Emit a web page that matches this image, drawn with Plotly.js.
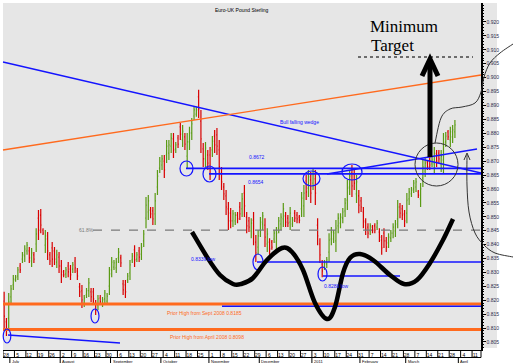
<!DOCTYPE html>
<html><head><meta charset="utf-8">
<script src="https://cdn.plot.ly/plotly-3.0.1.min.js"></script>
<style>html,body{margin:0;padding:0;background:#fff}#chart{width:513px;height:363px}</style>
</head><body><div id="chart"></div>
<script>
// ---- data: EUR/GBP daily bars from 2010-06-28 ----
const startDate = '2010-06-28';
const high = [0.8230,0.8136,0.8226,0.8255,0.8291,0.8291,0.8319,0.8334,0.8373,0.8398,
 0.8409,0.8391,0.8388,0.8373,0.8459,0.8524,0.8528,0.8459,0.8452,0.8445,
 0.8373,0.8409,0.8391,0.8381,0.8373,0.8345,0.8309,0.8319,0.8337,0.8327,
 0.8337,0.8355,0.8316,0.8262,0.8255,0.8219,0.8244,0.8280,0.8244,0.8244,
 0.8201,0.8219,0.8219,0.8212,0.8237,0.8226,0.8319,0.8355,0.8345,0.8352,
 0.8388,0.8363,0.8273,0.8273,0.8298,0.8345,0.8370,0.8398,0.8373,0.8391,
 0.8406,0.8452,0.8571,0.8578,0.8535,0.8535,0.8585,0.8668,0.8715,0.8722,
 0.8722,0.8776,0.8776,0.8801,0.8801,0.8769,0.8794,0.8837,0.8830,0.8801,
 0.8801,0.8823,0.8855,0.8895,0.8895,0.8956,0.8884,0.8765,0.8769,0.8740,
 0.8751,0.8790,0.8812,0.8819,0.8776,0.8679,0.8621,0.8596,0.8553,0.8531,
 0.8524,0.8517,0.8517,0.8553,0.8585,0.8614,0.8517,0.8499,0.8495,0.8517,
 0.8434,0.8452,0.8499,0.8517,0.8495,0.8459,0.8423,0.8416,0.8452,0.8463,
 0.8499,0.8513,0.8549,0.8517,0.8506,0.8535,0.8499,0.8524,0.8517,0.8506,
 0.8589,0.8614,0.8650,0.8668,0.8661,0.8675,0.8668,0.8495,0.8423,0.8345,
 0.8345,0.8355,0.8441,0.8463,0.8452,0.8488,0.8513,0.8513,0.8531,0.8567,
 0.8632,0.8668,0.8686,0.8675,0.8650,0.8596,0.8571,0.8535,0.8495,0.8477,
 0.8477,0.8470,0.8477,0.8488,0.8459,0.8434,0.8459,0.8427,0.8441,0.8452,
 0.8477,0.8488,0.8560,0.8549,0.8542,0.8524,0.8585,0.8603,0.8607,0.8632,
 0.8639,0.8596,0.8621,0.8704,0.8711,0.8704,0.8722,0.8715,0.8751,0.8740,
 0.8740,0.8740,0.8801,0.8805,0.8812,0.8823,0.8830,0.8848];
const low = [0.8100,0.8071,0.8093,0.8190,0.8237,0.8266,0.8273,0.8298,0.8334,0.8337,
 0.8363,0.8334,0.8319,0.8334,0.8373,0.8416,0.8441,0.8434,0.8370,0.8345,
 0.8327,0.8319,0.8327,0.8316,0.8298,0.8262,0.8283,0.8280,0.8283,0.8273,
 0.8298,0.8298,0.8273,0.8212,0.8172,0.8176,0.8208,0.8212,0.8194,0.8183,
 0.8147,0.8165,0.8183,0.8176,0.8190,0.8183,0.8219,0.8283,0.8309,0.8298,
 0.8334,0.8319,0.8219,0.8208,0.8262,0.8273,0.8334,0.8319,0.8337,0.8337,
 0.8345,0.8391,0.8459,0.8488,0.8495,0.8470,0.8470,0.8578,0.8657,0.8668,
 0.8639,0.8693,0.8704,0.8729,0.8711,0.8729,0.8747,0.8776,0.8751,0.8740,
 0.8675,0.8740,0.8776,0.8848,0.8859,0.8855,0.8729,0.8679,0.8679,0.8668,
 0.8632,0.8715,0.8729,0.8722,0.8632,0.8596,0.8560,0.8506,0.8452,0.8459,
 0.8463,0.8470,0.8477,0.8488,0.8499,0.8499,0.8441,0.8445,0.8423,0.8398,
 0.8337,0.8363,0.8427,0.8452,0.8391,0.8373,0.8363,0.8381,0.8406,0.8381,
 0.8441,0.8452,0.8463,0.8463,0.8463,0.8452,0.8463,0.8481,0.8477,0.8477,
 0.8499,0.8499,0.8560,0.8571,0.8549,0.8596,0.8542,0.8398,0.8334,0.8283,
 0.8309,0.8316,0.8337,0.8398,0.8406,0.8373,0.8441,0.8459,0.8477,0.8499,
 0.8524,0.8578,0.8571,0.8596,0.8549,0.8513,0.8517,0.8459,0.8434,0.8423,
 0.8434,0.8441,0.8441,0.8452,0.8409,0.8363,0.8388,0.8373,0.8388,0.8409,
 0.8423,0.8427,0.8459,0.8495,0.8488,0.8463,0.8477,0.8542,0.8571,0.8585,
 0.8589,0.8567,0.8535,0.8607,0.8643,0.8668,0.8668,0.8679,0.8657,0.8679,
 0.8693,0.8661,0.8657,0.8751,0.8776,0.8751,0.8765,0.8783];
const open = [0.8197,0.8122,0.8136,0.8212,0.8255,0.8273,0.8287,0.8323,0.8348,0.8359,
 0.8377,0.8377,0.8341,0.8363,0.8402,0.8495,0.8506,0.8452,0.8398,0.8420,
 0.8363,0.8388,0.8377,0.8337,0.8355,0.8323,0.8302,0.8295,0.8323,0.8312,
 0.8312,0.8341,0.8305,0.8248,0.8234,0.8190,0.8219,0.8234,0.8230,0.8230,
 0.8187,0.8183,0.8208,0.8187,0.8205,0.8197,0.8251,0.8309,0.8319,0.8316,
 0.8352,0.8352,0.8259,0.8255,0.8273,0.8298,0.8345,0.8381,0.8348,0.8377,
 0.8366,0.8413,0.8495,0.8517,0.8524,0.8521,0.8510,0.8607,0.8675,0.8686,
 0.8700,0.8722,0.8729,0.8754,0.8780,0.8744,0.8783,0.8823,0.8776,0.8787,
 0.8718,0.8769,0.8801,0.8862,0.8869,0.8931,0.8844,0.8744,0.8708,0.8722,
 0.8722,0.8740,0.8790,0.8794,0.8740,0.8657,0.8607,0.8575,0.8528,0.8513,
 0.8485,0.8485,0.8506,0.8535,0.8528,0.8585,0.8499,0.8485,0.8449,0.8488,
 0.8409,0.8391,0.8452,0.8474,0.8470,0.8402,0.8409,0.8409,0.8420,0.8409,
 0.8459,0.8474,0.8492,0.8503,0.8495,0.8481,0.8474,0.8513,0.8506,0.8499,
 0.8528,0.8539,0.8629,0.8603,0.8632,0.8621,0.8636,0.8470,0.8402,0.8330,
 0.8319,0.8330,0.8373,0.8420,0.8420,0.8413,0.8467,0.8477,0.8495,0.8521,
 0.8560,0.8607,0.8657,0.8654,0.8582,0.8575,0.8557,0.8517,0.8481,0.8463,
 0.8449,0.8463,0.8467,0.8463,0.8445,0.8416,0.8441,0.8413,0.8406,0.8423,
 0.8441,0.8449,0.8492,0.8535,0.8528,0.8510,0.8513,0.8564,0.8582,0.8600,
 0.8607,0.8589,0.8564,0.8639,0.8664,0.8697,0.8708,0.8690,0.8690,0.8726,
 0.8729,0.8686,0.8704,0.8769,0.8805,0.8776,0.8787,0.8805];
const close = [0.8143,0.8093,0.8194,0.8241,0.8277,0.8283,0.8309,0.8309,0.8363,0.8384,
 0.8398,0.8352,0.8370,0.8348,0.8438,0.8452,0.8470,0.8441,0.8431,0.8377,
 0.8341,0.8348,0.8348,0.8363,0.8323,0.8291,0.8291,0.8309,0.8302,0.8291,
 0.8327,0.8316,0.8287,0.8230,0.8201,0.8208,0.8234,0.8262,0.8212,0.8205,
 0.8165,0.8205,0.8194,0.8201,0.8226,0.8215,0.8295,0.8337,0.8334,0.8337,
 0.8373,0.8334,0.8237,0.8230,0.8287,0.8327,0.8359,0.8345,0.8363,0.8355,
 0.8391,0.8438,0.8542,0.8557,0.8510,0.8492,0.8557,0.8646,0.8700,0.8708,
 0.8668,0.8754,0.8758,0.8783,0.8740,0.8758,0.8761,0.8797,0.8808,0.8761,
 0.8769,0.8801,0.8834,0.8884,0.8884,0.8888,0.8780,0.8708,0.8747,0.8693,
 0.8672,0.8772,0.8758,0.8754,0.8679,0.8625,0.8582,0.8535,0.8485,0.8485,
 0.8510,0.8506,0.8492,0.8510,0.8564,0.8539,0.8467,0.8463,0.8477,0.8438,
 0.8370,0.8431,0.8481,0.8503,0.8427,0.8438,0.8384,0.8391,0.8441,0.8441,
 0.8485,0.8499,0.8528,0.8481,0.8477,0.8513,0.8488,0.8495,0.8492,0.8488,
 0.8567,0.8585,0.8589,0.8643,0.8585,0.8654,0.8585,0.8431,0.8363,0.8305,
 0.8334,0.8345,0.8416,0.8445,0.8441,0.8459,0.8495,0.8499,0.8517,0.8549,
 0.8603,0.8646,0.8611,0.8621,0.8625,0.8542,0.8535,0.8485,0.8456,0.8441,
 0.8467,0.8452,0.8452,0.8477,0.8427,0.8388,0.8413,0.8391,0.8427,0.8441,
 0.8463,0.8474,0.8535,0.8513,0.8506,0.8485,0.8560,0.8589,0.8596,0.8621,
 0.8625,0.8578,0.8600,0.8679,0.8693,0.8679,0.8686,0.8704,0.8729,0.8700,
 0.8708,0.8718,0.8765,0.8790,0.8787,0.8805,0.8812,0.8830];
const weekLabels = ['28','5','12','19','26','2','9','16','23','30','6','13','20','27','4','11','18','25','1','8','15','22','29','6','13','20','27','3','10','17','24','31','7','14','21','28','7','14','21','28','4','11'];
const monthLabels = ['July','August','September','October','November','December','2011','February','March','April'];
const monthStarts = ['2010-07-01','2010-08-02','2010-09-01','2010-10-01','2010-11-01','2010-12-01','2011-01-03','2011-02-01','2011-03-01','2011-04-01'];
const priceTicks = [0.805,0.810,0.815,0.820,0.825,0.830,0.835,0.840,0.845,0.850,0.855,0.860,0.865,0.870,0.875,0.880,0.885,0.890,0.895,0.900,0.905,0.910,0.915,0.920];
// marked price levels
const level1 = 0.8674, level2 = 0.8654, lowA = 0.8337, lowB = 0.8287, fib618 = 0.8452;
const priorSept = 0.8186, priorApril = 0.8095, blueBase = 0.8178;

// ---- dates ----
function addDays(s, n){ const d = new Date(s + 'T00:00:00Z'); d.setUTCDate(d.getUTCDate() + n); return d.toISOString().slice(0,10); }
const dates = [];
{ let k = 0; while (dates.length < high.length) { const s = addDays(startDate, k); const wd = new Date(s+'T00:00:00Z').getUTCDay(); if (wd !== 0 && wd !== 6) dates.push(s + ' 12:00'); k++; } }
const mondays = weekLabels.map((_, i) => addDays(startDate, 7*i));
const tickvals = mondays.map(m => addDays(m, 1) + ' 09:00');

// ---- pixel helpers for hand-drawn annotations ----
const L0 = 3, R0 = 481, T0 = 3, B0 = 350;
const X = px => (px - L0) / (R0 - L0);
const Y = py => (B0 - py) / (B0 - T0);
const BLUE = '#1414ff', ORANGE = '#ff6a1e', GREY = '#7a7a7a';
function seg(x0,y0,x1,y1,color,width,dash){ return {type:'line',xref:'paper',yref:'paper',x0:X(x0),y0:Y(y0),x1:X(x1),y1:Y(y1),line:{color:color,width:width,dash:dash||'solid'}}; }
function hlev(p,x0,x1,color,width,dash){ return {type:'line',xref:'paper',yref:'y',x0:X(x0),x1:X(x1),y0:p,y1:p,line:{color:color,width:width,dash:dash||'solid'}}; }
function ell(cx,cy,rx,ry,color,width){ return {type:'circle',xref:'paper',yref:'paper',x0:X(cx-rx),x1:X(cx+rx),y0:Y(cy+ry),y1:Y(cy-ry),line:{color:color,width:width}}; }
function smooth(pts){
  const P = pts.map(p => [X(p[0]), Y(p[1])]);
  let d = 'M' + P[0][0] + ',' + P[0][1];
  for (let i = 0; i < P.length - 1; i++) {
    const p0 = P[Math.max(i-1,0)], p1 = P[i], p2 = P[i+1], p3 = P[Math.min(i+2,P.length-1)];
    const c1 = [p1[0] + (p2[0]-p0[0])/6, p1[1] + (p2[1]-p0[1])/6];
    const c2 = [p2[0] - (p3[0]-p1[0])/6, p2[1] - (p3[1]-p1[1])/6];
    d += ' C' + c1[0] + ',' + c1[1] + ' ' + c2[0] + ',' + c2[1] + ' ' + p2[0] + ',' + p2[1];
  }
  return d;
}
function poly(pts){ return pts.map((p,i)=>(i?'L':'M')+X(p[0])+','+Y(p[1])).join(' '); }
function pathShape(d,color,width){ return {type:'path',xref:'paper',yref:'paper',path:d,line:{color:color,width:width}}; }

const shapes = [
  {type:'rect',xref:'paper',yref:'paper',x0:1,x1:X(497),y0:Y(348),y1:1,fillcolor:'#e6e6e6',line:{width:0},layer:'below'},
  // trend lines
  seg(3,62,481,173,BLUE,1.3),
  seg(3,150,481,75,ORANGE,1.3),
  seg(327,174,477,149,BLUE,1.5),
  seg(8,335,120,343,BLUE,1.5),
  // levels
  hlev(priorSept,3,481,ORANGE,3),
  hlev(priorApril,3,481,ORANGE,3),
  hlev(blueBase,222,481,BLUE,1.5),
  hlev(level1,186,481,BLUE,1.8),
  hlev(level2,209,481,BLUE,1.8),
  hlev(lowA,257,481,BLUE,1.5),
  hlev(lowB,323,400,BLUE,1.5),
  hlev(fib618,93,481,GREY,1.2,'dash'),
  // circles
  ell(7,336,3.8,7,BLUE,1.2), ell(95,316,4,7,BLUE,1.2), ell(186.5,168.5,6.5,7.5,BLUE,1.2),
  ell(209.5,174,6.5,8,BLUE,1.2), ell(311.5,178.5,8.5,7.5,BLUE,1.2), ell(352,172,10,8,BLUE,1.2),
  ell(258,262,5,8,BLUE,1.2), ell(322.5,274,4.5,7,BLUE,1.2),
  ell(436.5,164.5,21.5,21.5,'#333',1),
  // target
  seg(358,57,473,57,'#444',1.3,'dot'),
  seg(430,157,430,62,'#000',5),
  pathShape(poly([[422,76],[430,59],[438,76]]),'#000',5),
  // W pattern
  pathShape(smooth([[192,232],[207,257],[220,275],[233,284],[241,284],[253,278],[267,260],[282,248],[292,252],[303,270],[315,303],[327,319],[335,307],[343,273],[350,258],[360,254],[373,260],[390,275],[404,284],[417,280],[430,263],[443,240],[453,219]]),'#000',4.5),
  // thin callout curves
  pathShape(smooth([[435,143],[441,118],[450,109],[462,107],[475,103],[481,92],[484,77],[490,63],[500,53],[513,44]]),'#333',1),
  pathShape(smooth([[467,155],[467,185],[469,212],[475,233],[484,245],[495,253],[513,257]]),'#333',1),
  pathShape(poly([[464,160],[467,153],[470,160]]),'#333',1),
  // date box row
  seg(3,357.5,481,357.5,'#000',1),
  seg(481,350,481,357.5,'#000',1)
];
mondays.forEach(m => shapes.push({type:'line',xref:'x',yref:'paper',x0:m,x1:m,y0:0,y1:Y(357.5),line:{color:'#000',width:1}}));
monthStarts.forEach(m => shapes.push({type:'line',xref:'x',yref:'paper',x0:m,x1:m,y0:Y(357.5),y1:Y(364),line:{color:'#000',width:1}}));

const small = {family:'Liberation Sans, Arial, sans-serif', size:5};
function txt(t,x,y,color,anchor){ return {text:t,xref:'paper',yref:'paper',x:X(x),y:Y(y),xanchor:anchor||'center',yanchor:'middle',showarrow:false,font:Object.assign({},small,{color:color})}; }
const annotations = [
  txt('Euro-UK Pound Sterling',242,10,'#000'),
  txt('Bull falling wedge',299,122,BLUE),
  txt('0.8672',257,157,BLUE),
  txt('0.8654',256,182,BLUE),
  txt('61.8%',86,230,GREY),
  txt('0.8339 low',203,259,BLUE),
  txt('0.8288 low',336,286,BLUE),
  txt('Prior High from Sept 2008 0.8185',204,313,ORANGE),
  txt('Prior High from April 2008 0.8098',207,337,ORANGE),
  {text:'Minimum',xref:'paper',yref:'paper',x:X(368),y:Y(27),xanchor:'left',yanchor:'middle',showarrow:false,font:{family:'Liberation Serif, Times New Roman, serif',size:17,color:'#000'}},
  {text:'Target',xref:'paper',yref:'paper',x:X(369),y:Y(45),xanchor:'left',yanchor:'middle',showarrow:false,font:{family:'Liberation Serif, Times New Roman, serif',size:17,color:'#000'}}
];
monthStarts.forEach((m,i) => annotations.push({text:monthLabels[i],xref:'x',yref:'paper',x:m,y:Y(357.6),xanchor:'left',yanchor:'top',xshift:1,borderpad:0,showarrow:false,font:{family:'Liberation Sans, Arial, sans-serif',size:4,color:'#000'}}));

const trace = {
  type:'ohlc', x:dates, open:open, high:high, low:low, close:close,
  increasing:{line:{color:'#5a9a14',width:1.2}},
  decreasing:{line:{color:'#d80000',width:1.2}},
  tickwidth:0.35, hoverinfo:'skip', showlegend:false
};

const layout = {
  width:513, height:363,
  margin:{l:L0, r:513-R0, t:T0, b:363-B0, pad:0},
  paper_bgcolor:'#fff', plot_bgcolor:'#e6e6e6',
  showlegend:false,
  xaxis:{type:'date', range:['2010-06-28','2011-04-14 21:40'], rangebreaks:[{bounds:['sat','mon']}],
    rangeslider:{visible:false}, tickmode:'array', tickvals:tickvals, ticktext:weekLabels, ticks:'',
    tickfont:Object.assign({},small,{color:'#000'}), showline:true, linecolor:'#000', linewidth:1,
    showgrid:false, zeroline:false, fixedrange:true},
  yaxis:{side:'right', range:[0.80211,0.92682], tickmode:'array', tickvals:priceTicks, tickformat:'.3f',
    ticks:'outside', ticklen:3, tickcolor:'#000', showline:true, linecolor:'#000', linewidth:1.5,
    showgrid:false, zeroline:false, tickfont:Object.assign({},small,{color:'#2a2a4a'}),
    minor:{tickmode:'linear', tick0:0.8, dtick:0.001, ticks:'outside', ticklen:1.5, tickcolor:'#000', showgrid:false}, fixedrange:true},
  shapes:shapes, annotations:annotations
};
Plotly.newPlot('chart',[trace],layout,{staticPlot:true,displayModeBar:false});
</script></body></html>
